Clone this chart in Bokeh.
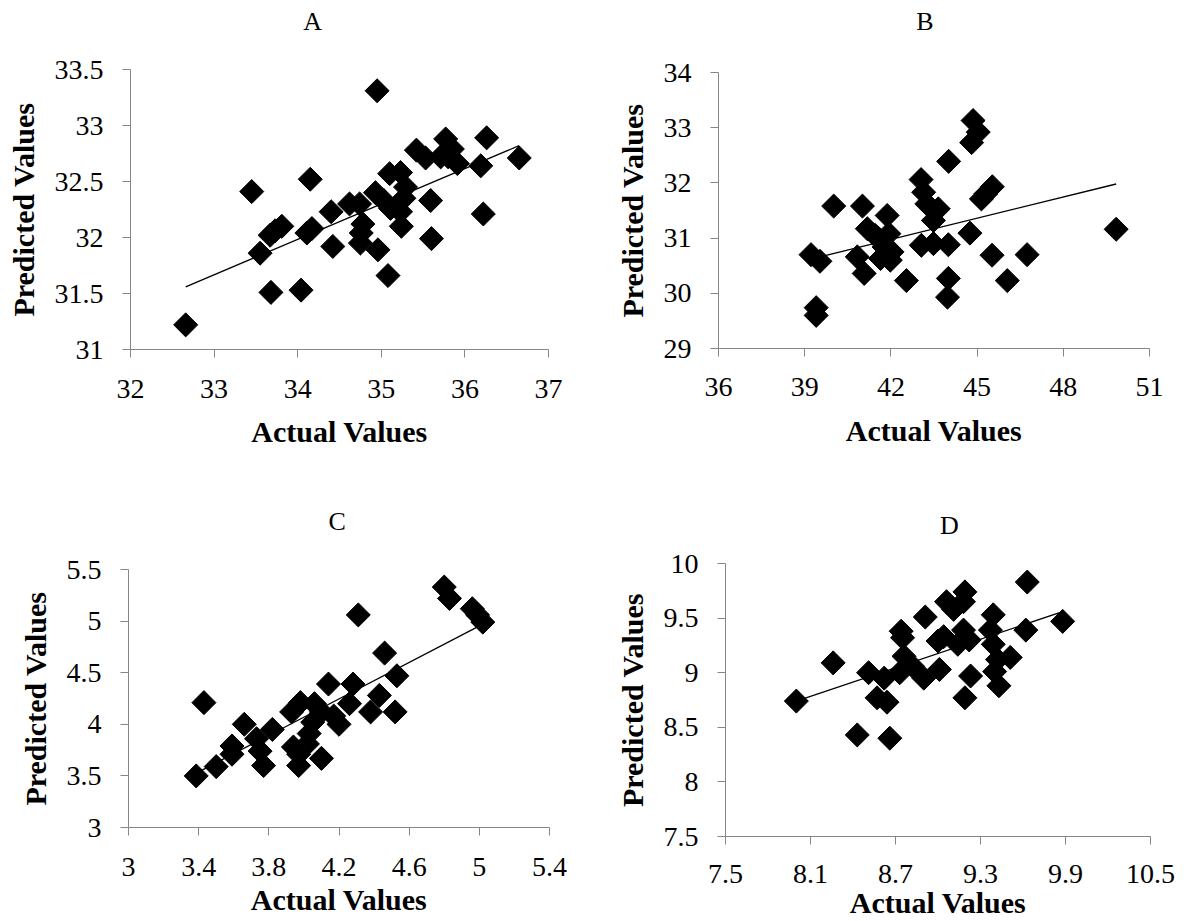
import math
from bokeh.plotting import figure
from bokeh.layouts import column, row
from bokeh.models import Range1d, FixedTicker, LinearAxis
from bokeh.embed import file_html
from bokeh.resources import INLINE

# ---------------- data ----------------
a_actual = [32.66, 33.45, 33.55, 33.68, 33.67, 33.73, 33.81, 34.04, 34.15, 34.11, 34.17,
            34.40, 34.42, 34.62, 34.74, 34.78, 34.76, 34.75, 34.96, 34.95, 34.93, 35.03,
            35.11, 35.08, 35.10, 35.23, 35.29, 35.27, 35.23, 35.24, 35.59, 35.60, 35.42,
            35.53, 35.77, 35.71, 35.85, 35.91, 35.80, 36.19, 36.26, 36.22, 36.65]
a_pred = [31.22, 32.41, 31.86, 31.51, 32.02, 32.06, 32.10, 31.53, 32.52, 32.04, 32.08,
          32.23, 31.92, 32.30, 32.30, 32.12, 32.04, 31.95, 31.89, 33.31, 32.40, 32.33,
          32.26, 31.66, 32.57, 32.58, 32.45, 32.35, 32.23, 32.10, 32.33, 31.99, 32.78,
          32.71, 32.88, 32.72, 32.79, 32.66, 32.72, 32.64, 32.89, 32.21, 32.71]
a_trend_x = [32.66, 36.65]
a_trend_y = [31.56, 32.82]

b_actual = [39.22, 39.53, 39.40, 39.40, 40.01, 41.01, 40.83, 41.07, 41.18, 41.58, 41.87,
            41.76, 41.93, 41.64, 42.04, 41.98, 41.45, 42.54, 43.06, 43.48, 43.05, 43.14,
            43.25, 43.65, 43.48, 44.00, 44.00, 43.97, 44.01, 44.75, 44.86, 45.04, 44.81,
            45.53, 45.30, 45.15, 45.52, 46.05, 46.74, 49.84]
b_pred = [30.70, 30.58, 29.74, 29.60, 31.58, 31.58, 30.66, 30.36, 31.17, 30.99, 31.41,
          30.84, 31.08, 30.63, 30.75, 30.60, 31.05, 30.23, 30.87, 30.90, 32.06, 31.83,
          31.62, 31.53, 31.32, 30.88, 30.27, 29.93, 32.39, 31.09, 33.13, 32.92, 32.73,
          31.93, 31.80, 31.71, 30.69, 30.23, 30.70, 31.16]
b_trend_x = [39.22, 49.84]
b_trend_y = [30.62, 31.98]

c_actual = [3.386, 3.43, 3.50, 3.59, 3.59, 3.66, 3.73, 3.75, 3.77, 3.82, 3.93, 3.98, 3.94,
            3.97, 3.97, 4.03, 4.06, 4.05, 4.10, 4.02, 4.10, 4.14, 4.20, 4.17, 4.28, 4.26,
            4.31, 4.38, 4.43, 4.46, 4.52, 4.53, 4.80, 4.83, 4.96, 4.99, 5.02]
c_pred = [3.50, 4.21, 3.59, 3.79, 3.71, 4.00, 3.86, 3.74, 3.60, 3.95, 4.12, 4.21, 3.78,
          3.71, 3.60, 3.91, 4.20, 4.02, 4.12, 3.81, 3.67, 4.39, 4.00, 4.08, 4.39, 4.20,
          5.06, 4.12, 4.28, 4.69, 4.12, 4.47, 5.33, 5.22, 5.12, 5.06, 4.99]
c_trend_x = [3.39, 5.02]
c_trend_y = [3.53, 4.97]

d_actual = [8.00, 8.26, 8.43, 8.66, 8.51, 8.57, 8.64, 8.62, 8.74, 8.75, 8.76, 8.73, 8.82,
            8.90, 8.91, 9.01, 9.00, 9.04, 9.06, 9.11, 9.19, 9.18, 9.14, 9.18, 9.22, 9.23,
            9.19, 9.39, 9.37, 9.39, 9.51, 9.42, 9.40, 9.43, 9.63, 9.62, 9.88]
d_pred = [8.74, 9.09, 8.43, 8.40, 9.00, 8.77, 8.73, 8.95, 9.38, 9.32, 9.15, 9.00, 9.06,
          8.95, 9.51, 9.03, 9.29, 9.33, 9.65, 9.58, 9.74, 9.65, 9.26, 9.39, 9.30, 8.97,
          8.77, 9.53, 9.39, 9.26, 9.14, 9.12, 9.01, 8.88, 9.83, 9.39, 9.47]
d_trend_x = [8.00, 9.88]
d_trend_y = [8.74, 9.56]

a_xticks = [32, 33, 34, 35, 36, 37]
a_xlabels = ["32", "33", "34", "35", "36", "37"]
a_yticks = [31, 31.5, 32, 32.5, 33, 33.5]
a_ylabels = ["31", "31.5", "32", "32.5", "33", "33.5"]

b_xticks = [36, 39, 42, 45, 48, 51]
b_xlabels = ["36", "39", "42", "45", "48", "51"]
b_yticks = [29, 30, 31, 32, 33, 34]
b_ylabels = ["29", "30", "31", "32", "33", "34"]

c_xticks = [3.0, 3.4, 3.8, 4.2, 4.6, 5.0, 5.4]
c_xlabels = ["3", "3.4", "3.8", "4.2", "4.6", "5", "5.4"]
c_yticks = [3.0, 3.5, 4.0, 4.5, 5.0, 5.5]
c_ylabels = ["3", "3.5", "4", "4.5", "5", "5.5"]

d_xticks = [7.5, 8.1, 8.7, 9.3, 9.9, 10.5]
d_xlabels = ["7.5", "8.1", "8.7", "9.3", "9.9", "10.5"]
d_yticks = [7.5, 8.0, 8.5, 9.0, 9.5, 10.0]
d_ylabels = ["7.5", "8", "8.5", "9", "9.5", "10"]

FONT = "Liberation Serif"
AXIS_GRAY = "#868686"


def panel(title, xs, ys, tx, ty, xticks, xlabels, yticks, ylabels,
          width, height, bl, br, bt, bb, title_x, title_standoff,
          x_label_standoff, x_title_standoff):
    p = figure(width=width, height=height, output_backend="svg", toolbar_location=None,
               title=None,
               x_range=Range1d(xticks[0], xticks[-1]), y_range=Range1d(yticks[0], yticks[-1]),
               min_border_left=bl, min_border_right=br, min_border_top=bt, min_border_bottom=bb)
    p.xgrid.visible = False
    p.ygrid.visible = False
    p.outline_line_color = None
    p.background_fill_color = "white"
    p.border_fill_color = "white"

    for ax, ticks, labels in ((p.xaxis[0], xticks, xlabels), (p.yaxis[0], yticks, ylabels)):
        ax.ticker = FixedTicker(ticks=ticks)
        ax.major_label_overrides = {t: l for t, l in zip(ticks, labels)}
        ax.axis_line_color = AXIS_GRAY
        ax.major_tick_line_color = AXIS_GRAY
        ax.major_tick_out = 8
        ax.major_tick_in = 0
        ax.minor_tick_line_color = None
        ax.major_label_text_font = FONT
        ax.major_label_text_font_size = "28px"
        ax.major_label_text_color = "black"
        ax.axis_label_text_font = FONT
        ax.axis_label_text_font_size = "30px"
        ax.axis_label_text_font_style = "bold"
        ax.axis_label_text_color = "black"
    p.xaxis.axis_label = "Actual Values"
    p.yaxis.axis_label = "Predicted Values"
    p.xaxis.major_label_standoff = x_label_standoff
    p.xaxis.axis_label_standoff = x_title_standoff
    p.yaxis.major_label_standoff = 19
    p.yaxis.axis_label_standoff = 12

    # chart title ("A", "B", ...) shown above the frame
    top = LinearAxis(ticker=FixedTicker(ticks=[title_x]),
                     major_label_overrides={title_x: title},
                     axis_line_color=None, major_tick_line_color=None,
                     minor_tick_line_color=None, major_tick_in=0, major_tick_out=0,
                     major_label_standoff=title_standoff,
                     major_label_text_font=FONT, major_label_text_font_size="26px",
                     major_label_text_color="black")
    p.add_layout(top, "above")

    p.line(tx, ty, line_color="black", line_width=1.3)
    p.scatter(xs, ys, marker="square", size=17, angle=math.pi / 4,
              fill_color="black", line_color="black")
    return p


pA = panel("A", a_actual, a_pred, a_trend_x, a_trend_y, a_xticks, a_xlabels, a_yticks, a_ylabels,
           594, 460, 130, 46, 69, 111, 34.18, 34, 22, 14)
pB = panel("B", b_actual, b_pred, b_trend_x, b_trend_y, b_xticks, b_xlabels, b_yticks, b_ylabels,
           595, 460, 124, 40, 72, 112, 43.18, 37, 21, 15)
pC = panel("C", c_actual, c_pred, c_trend_x, c_trend_y, c_xticks, c_xlabels, c_yticks, c_ylabels,
           594, 461, 128, 45, 109, 94, 4.19, 34, 22, 4)
pD = panel("D", d_actual, d_pred, d_trend_x, d_trend_y, d_xticks, d_xlabels, d_yticks, d_ylabels,
           595, 461, 131, 39, 103, 83, 9.08, 24, 20, 0)

layout = column(row(column(pA), column(pB)), row(column(pC), column(pD)))
open("out.html", "w").write(file_html(layout, INLINE))
